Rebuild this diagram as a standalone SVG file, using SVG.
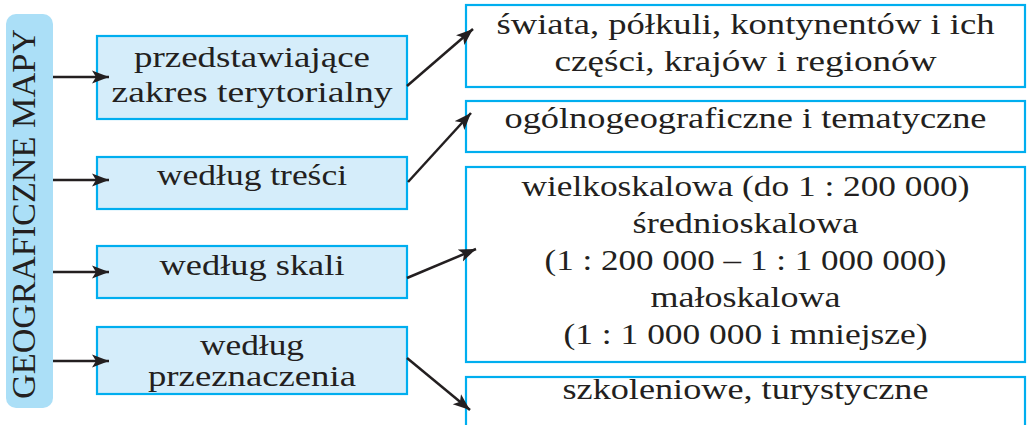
<svg xmlns="http://www.w3.org/2000/svg" width="1028" height="425" viewBox="0 0 1028 425">
<style>
.t{font-family:"Liberation Serif","Times New Roman",serif;font-size:30px;fill:#231f20;text-anchor:middle}
.lb{fill:#d5edfa;stroke:#00aeef;stroke-width:2.2}
.rb{fill:#ffffff;stroke:#00aeef;stroke-width:2.2}
.c{stroke:#231f20;stroke-width:2.5;fill:none;marker-end:url(#ah)}
</style>
<defs>
<marker id="ah" markerUnits="userSpaceOnUse" markerWidth="18" markerHeight="14" refX="17" refY="7" orient="auto">
<path d="M0,0.5 L17,7 L0,13.5 L4,7 Z" fill="#231f20"/>
</marker>
</defs>
<rect width="1028" height="425" fill="#ffffff"/>
<g id="root">
<rect x="6" y="14" width="47" height="394" rx="10" fill="#abdff7"/>
<text class="t" transform="translate(35,214) rotate(-90)" style="font-size:34px" textLength="370" lengthAdjust="spacingAndGlyphs">GEOGRAFICZNE MAPY</text>
</g>
<g id="n1">
<rect class="lb" x="97" y="36" width="310" height="83"/>
<text class="t" x="252" y="67" textLength="236" lengthAdjust="spacingAndGlyphs">przedstawiające</text>
<text class="t" x="252" y="102" textLength="281" lengthAdjust="spacingAndGlyphs">zakres terytorialny</text>
</g>
<g id="n2">
<rect class="lb" x="97" y="157" width="310" height="52"/>
<text class="t" x="252" y="185" textLength="190" lengthAdjust="spacingAndGlyphs">według treści</text>
</g>
<g id="n3">
<rect class="lb" x="97" y="246" width="310" height="52"/>
<text class="t" x="252" y="275" textLength="185" lengthAdjust="spacingAndGlyphs">według skali</text>
</g>
<g id="n4">
<rect class="lb" x="97" y="327" width="310" height="67"/>
<text class="t" x="252" y="355" textLength="104" lengthAdjust="spacingAndGlyphs">według</text>
<text class="t" x="252" y="386" textLength="208" lengthAdjust="spacingAndGlyphs">przeznaczenia</text>
</g>
<g id="r1">
<rect class="rb" x="466" y="5" width="559" height="82"/>
<text class="t" x="745.5" y="34" textLength="498" lengthAdjust="spacingAndGlyphs">świata, półkuli, kontynentów i ich</text>
<text class="t" x="745.5" y="71" textLength="382" lengthAdjust="spacingAndGlyphs">części, krajów i regionów</text>
</g>
<g id="r2">
<rect class="rb" x="466" y="101" width="559" height="51"/>
<text class="t" x="745.5" y="128" textLength="482" lengthAdjust="spacingAndGlyphs">ogólnogeograficzne i tematyczne</text>
</g>
<g id="r3">
<rect class="rb" x="466" y="167" width="559" height="195"/>
<text class="t" x="745.5" y="196" textLength="448" lengthAdjust="spacingAndGlyphs">wielkoskalowa (do 1 : 200 000)</text>
<text class="t" x="745.5" y="233" textLength="226" lengthAdjust="spacingAndGlyphs">średnioskalowa</text>
<text class="t" x="745.5" y="270" textLength="402" lengthAdjust="spacingAndGlyphs">(1 : 200 000 – 1 : 1 000 000)</text>
<text class="t" x="745.5" y="307" textLength="190" lengthAdjust="spacingAndGlyphs">małoskalowa</text>
<text class="t" x="745.5" y="344" textLength="364" lengthAdjust="spacingAndGlyphs">(1 : 1 000 000 i mniejsze)</text>
</g>
<g id="r4">
<rect class="rb" x="466" y="377" width="559" height="60"/>
<text class="t" x="745.5" y="399" textLength="366" lengthAdjust="spacingAndGlyphs">szkoleniowe, turystyczne</text>
</g>
<g id="connectors">
<line class="c" x1="53" y1="77" x2="109" y2="77"/>
<line class="c" x1="53" y1="180" x2="109" y2="180"/>
<line class="c" x1="53" y1="272" x2="109" y2="272"/>
<line class="c" x1="53" y1="361" x2="109" y2="361"/>
<line class="c" x1="407" y1="86" x2="473" y2="29"/>
<line class="c" x1="408" y1="182" x2="471" y2="113"/>
<line class="c" x1="407" y1="278" x2="476" y2="249"/>
<line class="c" x1="407" y1="358" x2="470" y2="410"/>
</g>
</svg>
